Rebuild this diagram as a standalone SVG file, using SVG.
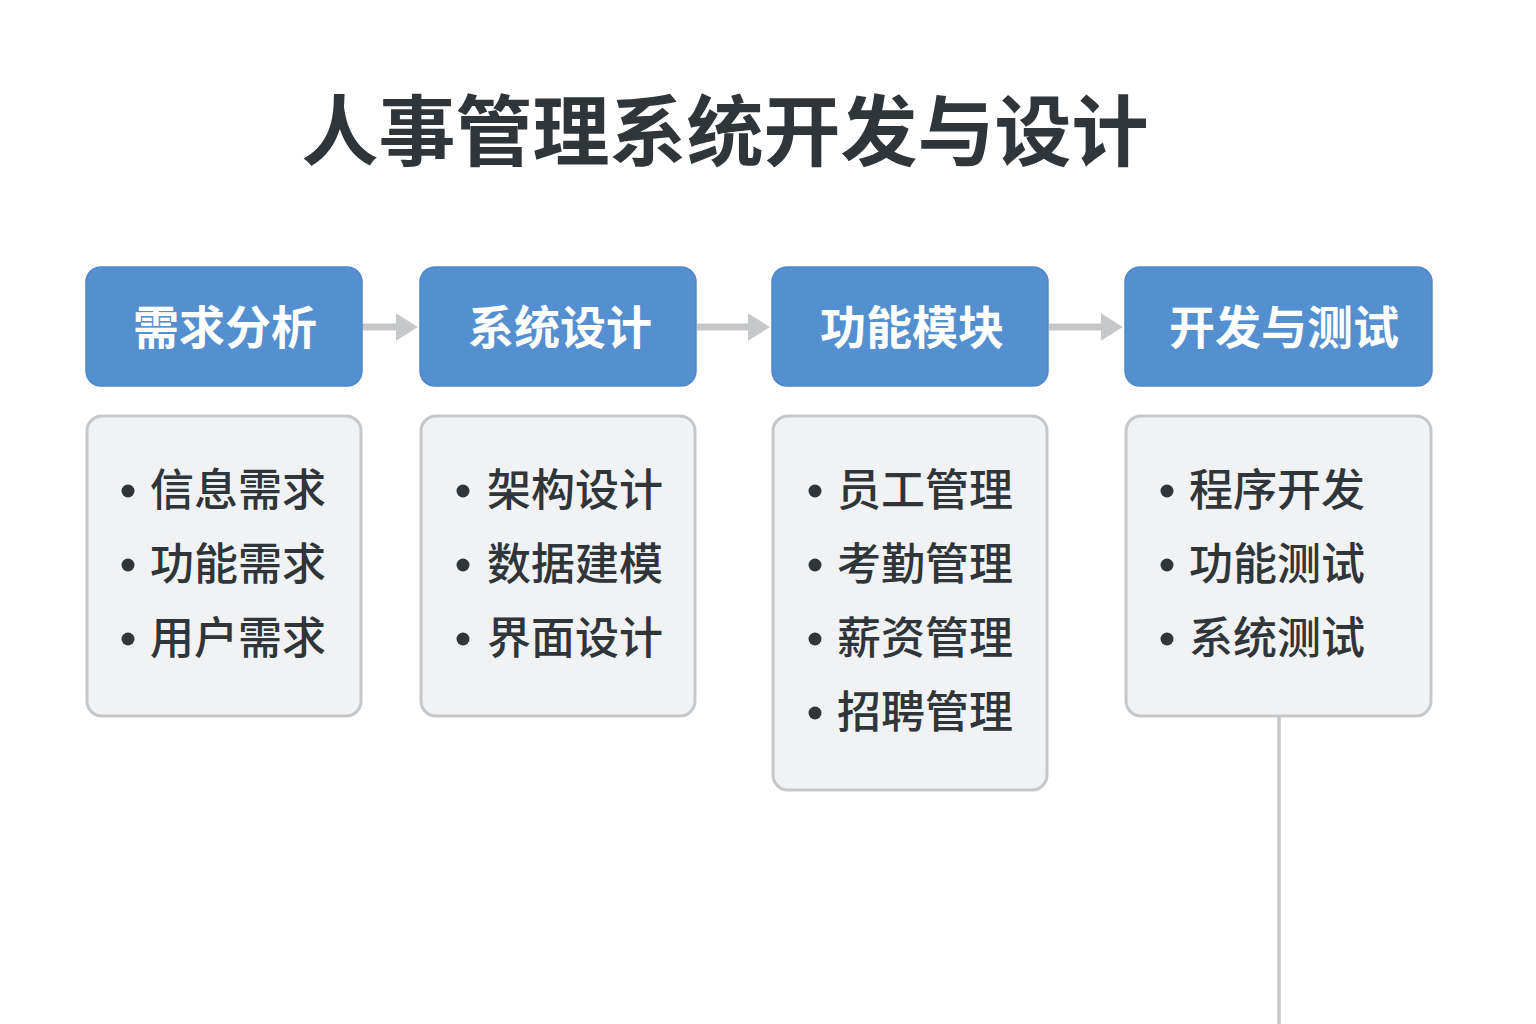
<svg xmlns="http://www.w3.org/2000/svg" width="1536" height="1024" viewBox="0 0 1536 1024">
<style>
.title{font-family:"Noto Sans CJK SC","Noto Sans",sans-serif;font-weight:700;font-size:77px;fill:#2f3538}
.hd{fill:#548fd0;stroke:#4f88c8;stroke-width:1.5}
.hdt{font-family:"Noto Sans CJK SC","Noto Sans",sans-serif;font-weight:700;font-size:46px;fill:#ffffff;text-anchor:middle}
.box{fill:#f1f2f4;stroke:#c5c7c9;stroke-width:3}
.it{font-family:"Noto Sans CJK SC","Noto Sans",sans-serif;font-weight:500;font-size:44px;fill:#2f3538}
.dot{fill:#2f3538}
.conn{stroke:#c5c7c9;fill:none}
</style>
<defs>
<marker id="ah" markerWidth="4" markerHeight="4" refX="0.5" refY="2" orient="auto" markerUnits="strokeWidth">
<path d="M0,0 L3.2,2 L0,4 Z" fill="#c5c7c9"/>
</marker>
</defs>
<rect width="1536" height="1024" fill="#ffffff"/>
<text class="title" x="725" y="160" text-anchor="middle">人事管理系统开发与设计</text>
<g id="connectors">
<line class="conn" x1="362" y1="327" x2="399" y2="327" stroke-width="7" marker-end="url(#ah)"/>
<line class="conn" x1="697" y1="327" x2="751" y2="327" stroke-width="7" marker-end="url(#ah)"/>
<line class="conn" x1="1049" y1="327" x2="1104" y2="327" stroke-width="7" marker-end="url(#ah)"/>
<line class="conn" x1="1279" y1="716" x2="1279" y2="1024" stroke-width="3.5"/>
</g>
<g id="node-xuqiu">
<rect class="hd" x="86" y="267" width="276" height="119" rx="15"/>
<text class="hdt" x="225" y="344">需求分析</text>
</g>
<g id="node-xitong">
<rect class="hd" x="420" y="267" width="276" height="119" rx="15"/>
<text class="hdt" x="560" y="344">系统设计</text>
</g>
<g id="node-gongneng">
<rect class="hd" x="772" y="267" width="276" height="119" rx="15"/>
<text class="hdt" x="912" y="344">功能模块</text>
</g>
<g id="node-kaifa">
<rect class="hd" x="1125" y="267" width="307" height="119" rx="15"/>
<text class="hdt" x="1284" y="344">开发与测试</text>
</g>
<g id="list-xuqiu">
<rect class="box" x="87" y="416" width="274" height="300" rx="15"/>
<circle class="dot" cx="128" cy="491" r="6.5"/>
<text class="it" x="150" y="506">信息需求</text>
<circle class="dot" cx="128" cy="565" r="6.5"/>
<text class="it" x="150" y="580">功能需求</text>
<circle class="dot" cx="128" cy="639" r="6.5"/>
<text class="it" x="150" y="654">用户需求</text>
</g>
<g id="list-xitong">
<rect class="box" x="421" y="416" width="274" height="300" rx="15"/>
<circle class="dot" cx="463" cy="491" r="6.5"/>
<text class="it" x="487" y="506">架构设计</text>
<circle class="dot" cx="463" cy="565" r="6.5"/>
<text class="it" x="487" y="580">数据建模</text>
<circle class="dot" cx="463" cy="639" r="6.5"/>
<text class="it" x="487" y="654">界面设计</text>
</g>
<g id="list-gongneng">
<rect class="box" x="773" y="416" width="274" height="374" rx="15"/>
<circle class="dot" cx="815" cy="491" r="6.5"/>
<text class="it" x="837" y="506">员工管理</text>
<circle class="dot" cx="815" cy="565" r="6.5"/>
<text class="it" x="837" y="580">考勤管理</text>
<circle class="dot" cx="815" cy="639" r="6.5"/>
<text class="it" x="837" y="654">薪资管理</text>
<circle class="dot" cx="815" cy="713" r="6.5"/>
<text class="it" x="837" y="728">招聘管理</text>
</g>
<g id="list-kaifa">
<rect class="box" x="1126" y="416" width="305" height="300" rx="15"/>
<circle class="dot" cx="1167" cy="491" r="6.5"/>
<text class="it" x="1189" y="506">程序开发</text>
<circle class="dot" cx="1167" cy="565" r="6.5"/>
<text class="it" x="1189" y="580">功能测试</text>
<circle class="dot" cx="1167" cy="639" r="6.5"/>
<text class="it" x="1189" y="654">系统测试</text>
</g>
</svg>
